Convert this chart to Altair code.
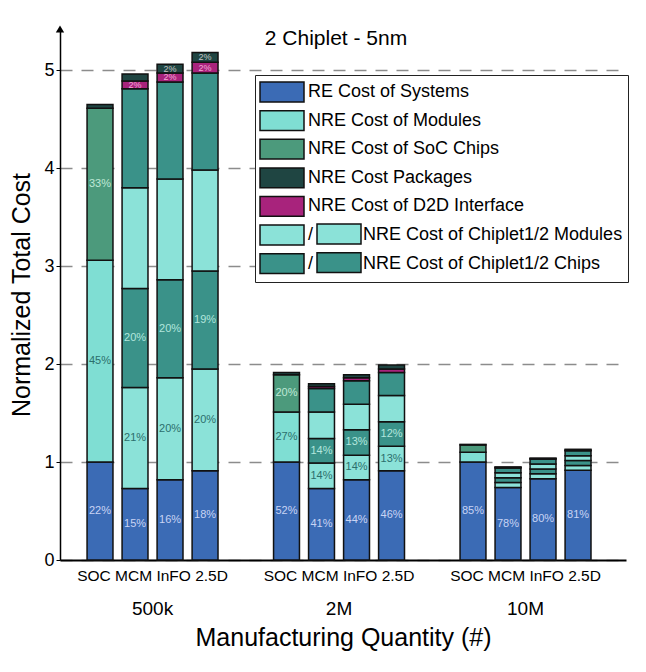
import altair as alt
import pandas as pd

TITLE = "2 Chiplet - 5nm"
groups = ["500k", "2M", "10M"]
platforms = ["SOC", "MCM", "InFO", "2.5D"]

# stack order bottom -> top
soc_layers = ["RE", "Modules", "SoC Chips", "Packages"]
chiplet_layers = ["RE", "Chiplet1 Modules", "Chiplet1 Chips", "Chiplet2 Modules",
                  "Chiplet2 Chips", "D2D", "Packages"]

# segment heights (normalized cost)
soc_500k = [1.00, 2.06, 1.55, 0.04]
mcm_500k = [0.73, 1.03, 1.01, 1.03, 1.01, 0.08, 0.07]
info_500k = [0.82, 1.04, 1.00, 1.03, 0.99, 0.09, 0.09]
d25_500k = [0.91, 1.04, 1.00, 1.03, 0.99, 0.11, 0.10]
soc_2m = [1.00, 0.51, 0.38, 0.025]
mcm_2m = [0.73, 0.26, 0.25, 0.27, 0.24, 0.02, 0.03]
info_2m = [0.82, 0.25, 0.26, 0.26, 0.24, 0.03, 0.03]
d25_2m = [0.91, 0.25, 0.25, 0.27, 0.235, 0.035, 0.04]
soc_10m = [1.00, 0.10, 0.075, 0.005]
mcm_10m = [0.74, 0.05, 0.05, 0.05, 0.05, 0.005, 0.005]
info_10m = [0.83, 0.05, 0.05, 0.05, 0.05, 0.005, 0.005]
d25_10m = [0.915, 0.05, 0.05, 0.05, 0.05, 0.007, 0.008]

# percentage labels per segment
lbl_soc_500k = ["22%", "45%", "33%", ""]
lbl_mcm_500k = ["15%", "21%", "20%", "", "", "2%", ""]
lbl_info_500k = ["16%", "20%", "20%", "", "", "2%", "2%"]
lbl_d25_500k = ["18%", "20%", "19%", "", "", "2%", "2%"]
lbl_soc_2m = ["52%", "27%", "20%", ""]
lbl_mcm_2m = ["41%", "14%", "14%", "", "", "", ""]
lbl_info_2m = ["44%", "14%", "13%", "", "", "", ""]
lbl_d25_2m = ["46%", "13%", "12%", "", "", "", ""]
lbl_soc_10m = ["85%", "", "", ""]
lbl_mcm_10m = ["78%", "", "", "", "", "", ""]
lbl_info_10m = ["80%", "", "", "", "", "", ""]
lbl_d25_10m = ["81%", "", "", "", "", "", ""]

legend_names = ["RE Cost of Systems", "NRE Cost of Modules", "NRE Cost of SoC Chips",
                "NRE Cost Packages", "NRE Cost of D2D Interface",
                "NRE Cost of Chiplet1/2 Modules", "NRE Cost of Chiplet1/2 Chips"]
legend_colors = ["#3b6bb5", "#7fded3", "#4c9a7c", "#1f4542", "#a8237c", "#8be2d8", "#3a9289"]
label_colors = ["#c9d4f4", "#2c6f6c", "#bfe8d6", "#c4c4c4", "#f4a8d8", "#2c6f6c", "#b2e6dd"]
layer_to_legend = {"RE": 0, "Modules": 1, "SoC Chips": 2, "Packages": 3, "D2D": 4,
                   "Chiplet1 Modules": 5, "Chiplet2 Modules": 5,
                   "Chiplet1 Chips": 6, "Chiplet2 Chips": 6}

bars = [
    ("500k", "SOC", soc_500k, lbl_soc_500k), ("500k", "MCM", mcm_500k, lbl_mcm_500k),
    ("500k", "InFO", info_500k, lbl_info_500k), ("500k", "2.5D", d25_500k, lbl_d25_500k),
    ("2M", "SOC", soc_2m, lbl_soc_2m), ("2M", "MCM", mcm_2m, lbl_mcm_2m),
    ("2M", "InFO", info_2m, lbl_info_2m), ("2M", "2.5D", d25_2m, lbl_d25_2m),
    ("10M", "SOC", soc_10m, lbl_soc_10m), ("10M", "MCM", mcm_10m, lbl_mcm_10m),
    ("10M", "InFO", info_10m, lbl_info_10m), ("10M", "2.5D", d25_10m, lbl_d25_10m),
]

rows = []
for g, p, vals, lbls in bars:
    layers = soc_layers if p == "SOC" else chiplet_layers
    base = 0.0
    for layer, v, lab in zip(layers, vals, lbls):
        k = layer_to_legend[layer]
        rows.append({"group": g, "platform": p, "layer": layer,
                     "cat": legend_names[k], "y0": base, "y1": base + v,
                     "mid": base + v / 2, "label": lab, "tcolor": label_colors[k],
                     "small": layer in ("D2D", "Packages")})
        base += v
df = pd.DataFrame(rows)
chip2_df = df[df["layer"].isin(["Chiplet2 Modules", "Chiplet2 Chips"])]
sub_df = pd.DataFrame({"group": groups, "sub": [" ".join(platforms)] * len(groups)})

W, H = 566, 531
YMAX = 5.42
FONT = "Liberation Sans"
SWATCH = "M-2,-0.9H2V0.9H-2Z"
ROW_PAD = 2.6
ROW_H = 28.4
LEG_X, LEG_Y = 195, 46

xscale = alt.Scale(paddingInner=0.249, paddingOuter=0.142, align=0.425)
xoff = alt.XOffset("platform:N", sort=platforms,
                   scale=alt.Scale(paddingInner=0.26, paddingOuter=0.13))
yscale = alt.Scale(domain=[0, YMAX], nice=False)

x_enc = alt.X("group:N", sort=groups, scale=xscale,
              axis=alt.Axis(title="Manufacturing Quantity (#)", labelAngle=0, ticks=False,
                            domainColor="black", domainWidth=2, labelFontSize=19,
                            labelColor="black", labelPadding=39, titleFontSize=25,
                            titleFontWeight="normal", titleColor="black", titlePadding=7))

pair_expr = ("indexof(datum.label, 'Chiplet') >= 0 ? "
             "'/" + "\u00a0" * 10 + "' + datum.label : datum.label")

bar = alt.Chart(df).mark_bar(stroke="#111111", strokeWidth=1.5).encode(
    x=x_enc,
    xOffset=xoff,
    y=alt.Y("y0:Q", scale=yscale,
            axis=alt.Axis(values=[0, 1, 2, 3, 4, 5], format="d", grid=True,
                          gridDash=[12, 9], gridColor="#8c8c8c", gridWidth=1.5,
                          domainColor="black", domainWidth=1.5, tickColor="black",
                          tickSize=4, labelFontSize=18, labelColor="black",
                          title="Normalized Total Cost", titleFontSize=25,
                          titleFontWeight="normal", titleColor="black", titlePadding=9)),
    y2="y1:Q",
    color=alt.Color("cat:N", sort=legend_names,
                    scale=alt.Scale(domain=legend_names, range=legend_colors),
                    legend=alt.Legend(title=None, orient="none", legendX=LEG_X, legendY=LEG_Y,
                                      fillColor="white", strokeColor="#222222",
                                      padding=5, labelFontSize=18, labelColor="black",
                                      symbolType=SWATCH, symbolSize=484, symbolOffset=10,
                                      symbolStrokeColor="#111111", symbolStrokeWidth=1.5,
                                      symbolOpacity=1, rowPadding=ROW_PAD, labelOffset=14,
                                      labelLimit=400, labelExpr=pair_expr)),
)

# second swatch of the "Chiplet1 / Chiplet2" legend rows
chip2 = alt.Chart(chip2_df).mark_bar(opacity=0).encode(
    x=alt.X("group:N", sort=groups),
    xOffset=alt.XOffset("platform:N", sort=platforms),
    y="y0:Q", y2="y1:Q",
    color=alt.Color("cat:N",
                    scale=alt.Scale(domain=legend_names[5:], range=legend_colors[5:]),
                    legend=alt.Legend(title=None, orient="none", legendX=LEG_X + 57,
                                      legendY=LEG_Y + 5 * ROW_H, padding=5,
                                      labelExpr="''", labelFontSize=18,
                                      symbolType=SWATCH, symbolSize=484, symbolOffset=10,
                                      symbolStrokeColor="#111111", symbolStrokeWidth=1.5,
                                      symbolOpacity=1, rowPadding=ROW_PAD, labelOffset=0,
                                      zindex=2)),
)

pct_base = alt.Chart(df).encode(
    x=alt.X("group:N", sort=groups),
    xOffset=alt.XOffset("platform:N", sort=platforms),
    y=alt.Y("mid:Q"),
    text="label:N",
    color=alt.Color("tcolor:N", scale=None, legend=None),
)
pct = pct_base.transform_filter("datum.label != '' && !datum.small").mark_text(
    fontSize=11, font=FONT)
pct_small = pct_base.transform_filter("datum.label != '' && datum.small").mark_text(
    fontSize=9, font=FONT)

sub = alt.Chart(sub_df).mark_text(fontSize=15.5, font=FONT, color="black",
                                  baseline="middle").encode(
    x=alt.X("group:N", sort=groups),
    y=alt.value(H + 16),
    text="sub:N",
)

title = alt.Chart(pd.DataFrame({"t": [TITLE]})).mark_text(
    fontSize=21, font=FONT, color="black", baseline="middle").encode(
    x=alt.value(276), y=alt.value(10), text="t:N")

arrow = alt.Chart(pd.DataFrame({"a": [1]})).mark_point(
    shape="triangle-up", filled=True, color="black", size=70, opacity=1).encode(
    x=alt.value(0), y=alt.datum(YMAX))

chart = alt.layer(bar, chip2, pct, pct_small, sub, title, arrow).resolve_scale(
    color="independent").properties(
    width=W, height=H,
    padding={"top": 17, "left": 1, "right": 0, "bottom": 5},
).configure(font=FONT).configure_view(stroke=None)

chart.save("out.html", embed_options={"renderer": "svg", "actions": False})
